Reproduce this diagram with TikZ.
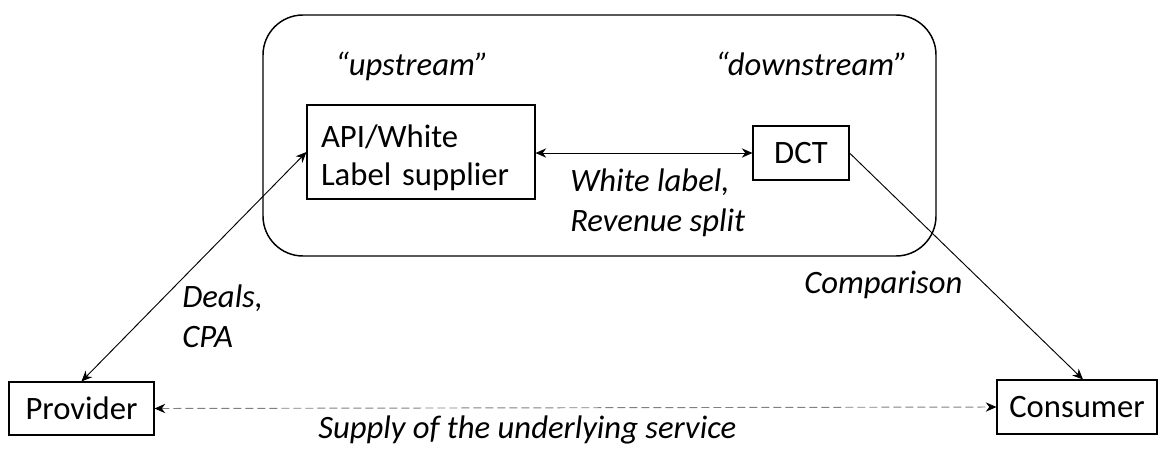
\documentclass[tikz,border=0pt]{standalone}
\usepackage{fontspec}
\setmainfont{Carlito}
\usetikzlibrary{arrows.meta}
\tikzset{
  box/.style={draw=black, line width=0.8pt, rectangle, inner sep=0pt, font=\fontsize{24.5}{28.5}\selectfont},
  lbl/.style={inner sep=0pt, align=left, font=\fontsize{24.5}{30}\selectfont\itshape},
  conn/.style={line width=0.7pt, black},
  mytip/.tip={Stealth[length=8pt,width=7pt]},
  container/.style={draw=black, line width=1.1pt, rounded corners=30pt}
}
\begin{document}
\begin{tikzpicture}[x=0.75pt,y=-0.75pt]
\useasboundingbox (0,0) rectangle (1160,450);
\draw[container] (263,15) rectangle (936,256);
\node[box, minimum width=171pt, minimum height=70.5pt, text width=150pt, inner xsep=10.5pt, align=left] (api) at (421,152) {\rule{0pt}{26pt}API/White\\Label supplier};
\node[box, minimum width=72pt, minimum height=40.5pt] (dct) at (801,153) {DCT};
\node[box, minimum width=108.75pt, minimum height=39.75pt] (provider) at (81.5,408.5) {Provider};
\node[box, minimum width=120pt, minimum height=40.5pt] (consumer) at (1077,407) {Consumer};
\node[lbl, anchor=base west] (up) at (335,75) {“upstream”};
\node[lbl, anchor=base west] (down) at (715,75) {“downstream”};
\node[lbl, anchor=base west] (wl) at (570,231) {White label,\\Revenue split};
\node[lbl, anchor=base west] (deals) at (182,347) {Deals,\\CPA};
\node[lbl, anchor=base west] (cmp) at (804,293) {Comparison};
\node[lbl, anchor=base west] (supply) at (318,438) {Supply of the underlying service};
\draw[conn, {mytip}-{mytip}] (api.east |- dct.west) -- (dct.west);
\draw[conn, {mytip}-{mytip}] (provider.north) -- (api.west);
\draw[conn, -{mytip}] (dct.east) -- ([xshift=4.5pt]consumer.north);
\draw[conn, gray, dash pattern=on 6pt off 3pt, {mytip[black]}-{mytip[black]}] (provider.east) -- (consumer.west);
\end{tikzpicture}
\end{document}
